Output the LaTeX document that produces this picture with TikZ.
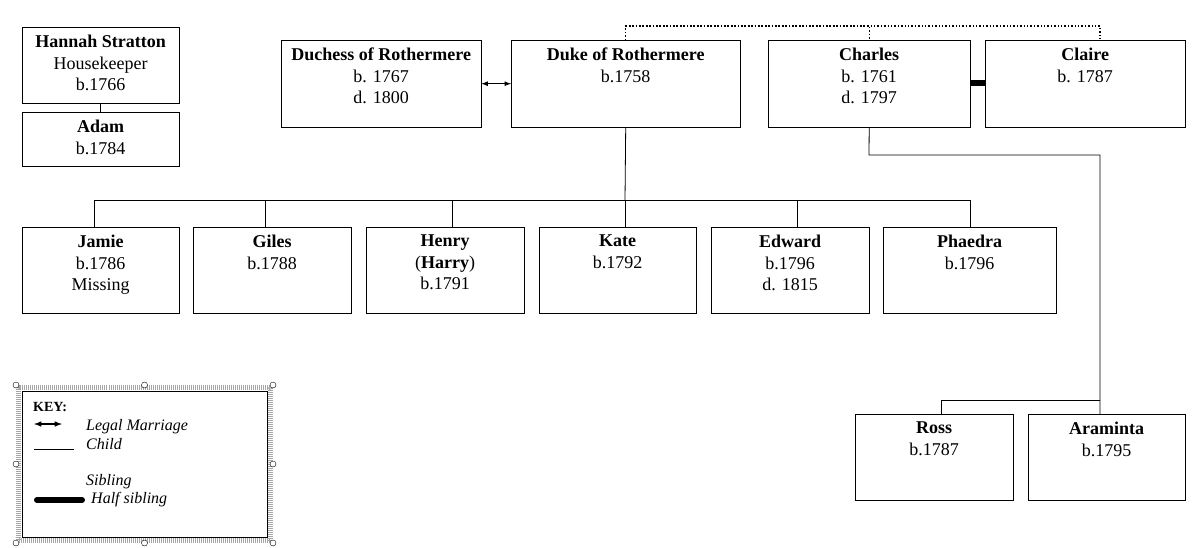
\documentclass[tikz,border=0pt]{standalone}
\usepackage{fontspec}
\setmainfont{Liberation Serif}
\usetikzlibrary{positioning,calc}

\newcommand{\person}[6]{%
  \node[box, minimum width=#4pt, minimum height=#5pt] (#1) at (#2,#3) {};
  \node[txt, below=8pt of #1.north] (#1t) {#6};
}

\begin{document}
\begin{tikzpicture}[x=1pt, y=-1pt,
    box/.style={rectangle, draw, inner sep=0pt, anchor=north west},
    txt/.style={align=center, inner sep=0pt, font=\fontsize{18}{21.5}\selectfont},
    child/.style={draw, line width=0.8pt},
    sib/.style={draw, dotted, line width=1.4pt},
    half/.style={draw, line width=6pt}
]
    \useasboundingbox (0,0) rectangle (1198,547);

    % top row
    \person{hannah}{22}{27}{157}{76}{\textbf{Hannah Stratton}\\Housekeeper\\b.1766}
    \person{adam}{22}{112}{157}{54}{\textbf{Adam}\\b.1784}
    \person{duchess}{281}{40}{200}{87}{\textbf{Duchess of Rothermere}\\b. 1767\\d. 1800}
    \person{duke}{511}{40}{229}{87}{\textbf{Duke of Rothermere}\\b.1758}
    \person{charles}{768}{40}{202}{87}{\textbf{Charles}\\b. 1761\\d. 1797}
    \person{claire}{985}{40}{200}{87}{\textbf{Claire}\\b. 1787}

    % children
    \person{jamie}{22}{227}{157}{86}{\textbf{Jamie}\\b.1786\\Missing}
    \person{giles}{193}{227}{158}{86}{\textbf{Giles}\\b.1788}
    \person{henry}{366}{227}{158}{86}{\textbf{Henry}\\(\textbf{Harry})\\b.1791}
    \person{kate}{539}{227}{157}{86}{\textbf{Kate}\\b.1792}
    \person{edward}{711}{227}{158}{86}{\textbf{Edward}\\b.1796\\d. 1815}
    \person{phaedra}{883}{227}{173}{86}{\textbf{Phaedra}\\b.1796}
    \person{ross}{855}{414}{158}{86}{\textbf{Ross}\\b.1787}
    \person{araminta}{1028}{414}{157}{86}{\textbf{Araminta}\\b.1795}

    % links
    \draw[child] (hannah) -- (adam);
    \draw[latex-latex, line width=1.2pt] (duchess.east) -- (duke.west);
    \draw[half] (charles.east |- 0,83) -- (claire.west |- 0,83);
    \draw[sib] (duke.north) -- ++(0,-14) -| (charles.north);
    \draw[sib] ($(duke.north)+(0,-14)$) -| (claire.north -| 1100,0);
    \coordinate (bus) at (625,200);
    \draw[child] (duke.south) -- (bus);
    \draw[child] (jamie.north -| 94,0) -- (94,200) -- (970,200) -- (phaedra.north -| 970,0);
    \foreach \c/\x in {giles/265, henry/452, kate/625, edward/797}
        \draw[child] (\x,200) -- (\c.north -| \x,0);
    \draw[child] (charles.south) -- (869,155) -- (1100,155) -- (araminta.north -| 1100,0);
    \draw[child] (1100,400) -- (941,400) -- (ross.north -| 941,0);

    % key
    \node[box, draw=gray!70, dash pattern=on 1pt off 1pt, line width=5pt,
          minimum width=252pt, minimum height=153pt] (key) at (16,385) {};
    \draw (key.north west) ++(6,6) rectangle ($(key.south east)+(-6,-6)$);
    \foreach \a in {north west, north, north east, east, south east, south, south west, west}
        \draw[fill=white] (key.\a) circle (3pt);
    \node[txt, anchor=west, font=\fontsize{14}{16}\selectfont] (keyt) at (33,407) {\textbf{KEY:}};
    \draw[latex-latex, line width=1.5pt] (34,424) -- (62,424);
    \node[txt, anchor=west, font=\fontsize{16}{18}\selectfont] (lm) at (86,427) {\itshape Legal Marriage};
    \draw[child] (34,449) -- (74,449);
    \node[txt, anchor=west, font=\fontsize{16}{18}\selectfont] (ch) at (86,444) {\itshape Child};
    \node[txt, anchor=west, font=\fontsize{16}{18}\selectfont] (sb) at (86,482) {\itshape Sibling};
    \draw[half, line cap=round] (37,500) -- (82,500);
    \node[txt, anchor=west, font=\fontsize{16}{18}\selectfont] (hs) at (91,500) {\itshape Half sibling};
\end{tikzpicture}
\end{document}
